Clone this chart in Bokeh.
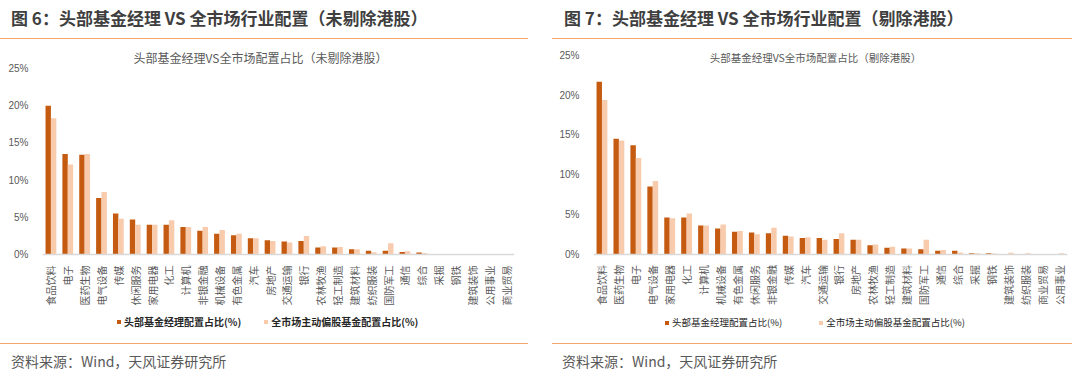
import math
from bokeh.plotting import figure
from bokeh.models import (Range1d, FactorRange, FixedTicker, PrintfTickFormatter,
                          Legend, LegendItem, Label, Div, ColumnDataSource)
from bokeh.layouts import row, column
from bokeh.transform import dodge
from bokeh.embed import file_html
from bokeh.resources import INLINE

# ---------------- data ----------------
cats_left = ["食品饮料", "电子", "医药生物", "电气设备", "传媒", "休闲服务", "家用电器", "化工",
             "计算机", "非银金融", "机械设备", "有色金属", "汽车", "房地产", "交通运输", "银行",
             "农林牧渔", "轻工制造", "建筑材料", "纺织服装", "国防军工", "通信", "综合", "采掘",
             "钢铁", "建筑装饰", "公用事业", "商业贸易"]
head_left = [20.0, 13.5, 13.4, 7.6, 5.5, 4.7, 4.0, 4.0, 3.7, 3.2, 2.8, 2.6, 2.2, 1.9,
             1.75, 1.8, 0.95, 0.95, 0.7, 0.5, 0.5, 0.35, 0.27, 0.0, 0.0, 0.0, 0.0, 0.0]
mkt_left = [18.3, 12.1, 13.5, 8.4, 4.8, 4.0, 4.0, 4.6, 3.7, 3.7, 3.3, 2.8, 2.2, 1.8,
            1.6, 2.5, 1.1, 1.0, 0.7, 0.3, 1.5, 0.45, 0.2, 0.05, 0.05, 0.05, 0.05, 0.0]

cats_right = ["食品饮料", "医药生物", "电子", "电气设备", "家用电器", "化工", "计算机", "机械设备",
              "有色金属", "休闲服务", "非银金融", "传媒", "汽车", "交通运输", "银行", "房地产",
              "农林牧渔", "轻工制造", "建筑材料", "国防军工", "通信", "综合", "采掘", "钢铁",
              "建筑装饰", "纺织服装", "商业贸易", "公用事业"]
head_right = [21.7, 14.5, 13.7, 8.5, 4.6, 4.6, 3.6, 3.2, 2.8, 2.7, 2.6, 2.3, 2.0, 2.0,
              1.9, 1.8, 1.1, 0.8, 0.7, 0.6, 0.4, 0.4, 0.1, 0.1, 0.0, 0.0, 0.0, 0.0]
mkt_right = [19.4, 14.3, 12.1, 9.2, 4.5, 5.1, 3.6, 3.7, 2.9, 2.5, 3.3, 2.2, 2.1, 1.8,
             2.6, 1.8, 1.2, 0.9, 0.7, 1.8, 0.5, 0.2, 0.1, 0.05, 0.15, 0.1, 0.0, 0.1]

y_ticks = [0, 5, 10, 15, 20, 25]
series_names = ["头部基金经理配置占比(%)", "全市场主动偏股基金配置占比(%)"]

title_left = "图 6：头部基金经理 VS 全市场行业配置（未剔除港股）"
title_right = "图 7：头部基金经理 VS 全市场行业配置（剔除港股）"
sub_left = "头部基金经理VS全市场配置占比（未剔除港股）"
sub_right = "头部基金经理VS全市场配置占比（剔除港股）"
source_text = "资料来源：Wind，天风证券研究所"

# ---------------- style ----------------
DARK = "#C55A11"
LIGHT = "#F8CBAD"
ORANGE = "#F4A66A"
CJK = "Noto Sans CJK SC"
GRAY = "#595959"
FIG_H = 294


def make_chart(cats, head, mkt, subtitle, width, bl, br, y_lo, y_hi,
               sub_size, sub_xy, leg_xy, leg_bold, leg_size, leg_spacing):
    src = ColumnDataSource(dict(cat=cats, head=head, mkt=mkt))
    p = figure(width=width, height=FIG_H, x_range=FactorRange(*cats),
               y_range=Range1d(y_lo, y_hi), output_backend="svg", toolbar_location=None,
               min_border_left=bl, min_border_right=br, min_border_top=0,
               min_border_bottom=0, outline_line_color=None)
    p.xgrid.grid_line_color = None
    p.ygrid.grid_line_color = None
    r1 = p.vbar(x=dodge("cat", -0.16, range=p.x_range), top="head", width=0.32,
                source=src, fill_color=DARK, line_color=None)
    r2 = p.vbar(x=dodge("cat", 0.16, range=p.x_range), top="mkt", width=0.32,
                source=src, fill_color=LIGHT, line_color=None)

    p.yaxis.ticker = FixedTicker(ticks=y_ticks)
    p.yaxis.formatter = PrintfTickFormatter(format="%d%%")
    p.yaxis.axis_line_color = None
    p.yaxis.major_tick_line_color = None
    p.yaxis.minor_tick_line_color = None
    p.yaxis.major_label_standoff = 8
    p.yaxis.major_label_text_font = "Liberation Sans"
    p.yaxis.major_label_text_font_size = "10px"
    p.yaxis.major_label_text_color = GRAY

    xa = p.xaxis[0]
    xa.fixed_location = 0
    xa.axis_line_color = "#D9D9D9"
    xa.axis_line_width = 1.5
    xa.major_tick_line_color = None
    xa.minor_tick_line_color = None
    xa.major_label_orientation = math.pi / 2
    xa.major_label_standoff = 5
    xa.major_label_text_font = CJK
    xa.major_label_text_font_size = "10px"
    xa.major_label_text_color = GRAY

    p.add_layout(Label(x=sub_xy[0], y=sub_xy[1], x_units="screen", y_units="screen",
                       text=subtitle, text_align="center", text_baseline="middle",
                       text_font=CJK, text_font_size=sub_size, text_color=GRAY))

    legend = Legend(items=[LegendItem(label=series_names[0], renderers=[r1]),
                           LegendItem(label=series_names[1], renderers=[r2])],
                    orientation="horizontal", location=leg_xy,
                    glyph_width=5, glyph_height=5, label_standoff=3,
                    label_height=14, spacing=leg_spacing, padding=0, margin=0,
                    border_line_color=None, background_fill_alpha=0,
                    label_text_font=CJK, label_text_font_size=leg_size,
                    label_text_color="#262626",
                    label_text_font_style="bold" if leg_bold else "normal")
    p.add_layout(legend, "center")
    return p


def header(text, width, text_left, line_left, line_width):
    html = (f'<div style="position:relative;width:{width}px;height:44px;">'
            f'<div style="position:absolute;left:{text_left}px;top:7px;font-family:\'{CJK}\';'
            f'font-size:17px;font-weight:bold;color:#3F3F3F;line-height:22px;white-space:nowrap;">{text}</div>'
            f'<div style="position:absolute;left:{line_left}px;top:38px;width:{line_width}px;height:0;'
            f'border-top:1.5px solid {ORANGE};"></div></div>')
    return Div(text=html, width=width, height=44, margin=0)


def footer(width, text_left, line_left, line_width):
    html = (f'<div style="position:relative;width:{width}px;height:35px;">'
            f'<div style="position:absolute;left:{line_left}px;top:5px;width:{line_width}px;height:0;'
            f'border-top:1.5px solid {ORANGE};"></div>'
            f'<div style="position:absolute;left:{text_left}px;top:12px;font-family:\'{CJK}\';'
            f'font-size:14px;color:{GRAY};line-height:22px;white-space:nowrap;">{source_text}</div></div>')
    return Div(text=html, width=width, height=35, margin=0)


# left: 0% at 210 px from top of figure, 7.44 px per 1%
pl = make_chart(cats_left, head_left, mkt_left, sub_left, 540, 42, 26,
                -84 / 7.44, 210 / 7.44, "12px", (218, 281), (74, 9), True, "10px", 22)
# right: 0% at 209.5 px from top of figure, 7.94 px per 1%
pr = make_chart(cats_right, head_right, mkt_right, sub_right, 532, 53, 5,
                -84.5 / 7.94, 209.5 / 7.94, "10.5px", (222, 281), (71, 9), False, "9.5px", 36)

left = column(header(title_left, 540, 11, 0, 528), pl, footer(540, 11, 0, 528), spacing=0)
right = column(header(title_right, 532, 24, 12, 520), pr, footer(532, 22, 12, 520), spacing=0)
page = row(left, right, spacing=0)

open("out.html", "w").write(file_html(page, INLINE))
